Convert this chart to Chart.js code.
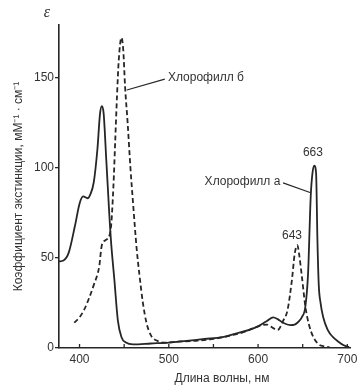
<!DOCTYPE html>
<html>
<head>
<meta charset="utf-8">
<script src="https://cdn.jsdelivr.net/npm/chart.js@4.4.1/dist/chart.umd.min.js"></script>
<style>
  html, body { margin: 0; padding: 0; background: #fff; }
  #wrap { width: 358px; height: 387px; }
</style>
</head>
<body>
<div id="wrap"><canvas id="spectrum" width="358" height="387"></canvas></div>
<script>
// Chlorophyll a (solid line)
const wavelengthA = [377, 382, 388, 395, 400, 404, 409, 412, 416, 420, 423, 425, 427, 430, 435, 439, 443, 447, 452, 460,
  480, 500, 520, 540, 560, 575, 590, 600, 610, 617, 622, 628, 636, 641, 644, 649, 653, 656, 659, 661, 663, 665,
  666.5, 668, 670, 673, 678, 684, 690, 696, 702];
const chlA = [48, 48.5, 53, 68, 80, 84, 83, 85, 92, 110, 130, 134, 130, 104, 61, 38, 15, 6, 3, 2,
  2.5, 3, 4, 5, 6, 8, 10, 12, 15, 17, 16, 14, 12.7, 13, 14, 17, 23, 41, 84, 97, 101, 97,
  60, 35, 25, 17, 10, 6, 3.5, 1.5, 0.5];

// Chlorophyll b (dashed line)
const wavelengthB = [394, 400, 405, 411, 416, 422, 425, 430, 435, 438, 440, 442, 444, 447, 449, 451, 454, 457, 460, 464,
  467, 471, 475, 480, 487, 495, 510, 530, 550, 570, 585, 600, 610, 617, 622, 628, 633, 638, 641, 644, 646, 649,
  653, 657, 662, 668, 673, 680];
const chlB = [14, 17, 21, 28, 35, 45, 57, 60, 66, 90, 115, 140, 160, 172, 165, 145, 124, 100, 80, 55,
  41, 25, 14, 7, 4, 3, 3.5, 4, 5, 7, 9, 12, 13, 11, 10, 15, 21, 38, 52, 57, 52, 40,
  23, 13, 6, 2, 1, 0.5];

const xTicks = [400, 450, 500, 550, 600, 650, 700];
const xLabels = [400, 500, 600, 700];
const yTicks = [0, 50, 100, 150];

const ink = '#262626';
const textInk = '#333';

const toPoints = (xs, ys) => xs.map((x, i) => ({ x: x, y: ys[i] }));

// extra drawing: inward x ticks, epsilon, x title, callouts
const extras = {
    id: 'extras',
    afterDraw(chart) {
        const ctx = chart.ctx;
        const x = chart.scales.x;
        const y = chart.scales.y;
        const px = v => x.getPixelForValue(v);
        const py = v => y.getPixelForValue(v);
        ctx.save();

        ctx.strokeStyle = ink;
        ctx.lineWidth = 1.3;
        xTicks.forEach(v => {
            ctx.beginPath();
            ctx.moveTo(px(v), y.bottom);
            ctx.lineTo(px(v), y.bottom - 4);
            ctx.stroke();
        });

        ctx.fillStyle = textInk;
        ctx.font = 'italic 16px "Liberation Serif", serif';
        ctx.textAlign = 'center';
        ctx.textBaseline = 'middle';
        ctx.fillText('ε', 47, 13);

        ctx.font = '12px "Liberation Sans", Arial, sans-serif';
        ctx.fillText('Длина волны, нм', 222, 379);

        // leader lines
        ctx.lineWidth = 1.1;
        ctx.beginPath();
        ctx.moveTo(px(453), py(143));
        ctx.lineTo(px(495.5), py(149));
        ctx.moveTo(px(628), py(91.5));
        ctx.lineTo(px(659), py(86));
        ctx.stroke();

        ctx.textAlign = 'left';
        ctx.fillText('Хлорофилл б', px(499), py(150));
        ctx.textAlign = 'right';
        ctx.fillText('Хлорофилл а', px(625), py(92));
        ctx.textAlign = 'center';
        ctx.fillText('663', px(661.5), py(108.5));
        ctx.fillText('643', px(638), py(62));

        ctx.restore();
    }
};

new Chart(document.getElementById('spectrum'), {
    type: 'line',
    data: {
        datasets: [{
            label: 'Хлорофилл а',
            data: toPoints(wavelengthA, chlA),
            borderColor: ink,
            borderWidth: 1.8,
            pointRadius: 0,
            cubicInterpolationMode: 'monotone'
        }, {
            label: 'Хлорофилл б',
            data: toPoints(wavelengthB, chlB),
            borderColor: ink,
            borderWidth: 1.8,
            borderDash: [5, 3],
            pointRadius: 0,
            cubicInterpolationMode: 'monotone'
        }]
    },
    options: {
        responsive: false,
        animation: false,
        devicePixelRatio: 1,
        layout: { padding: { top: 25, right: 8, left: 0, bottom: 0 } },
        plugins: {
            legend: { display: false },
            tooltip: { enabled: false }
        },
        scales: {
            x: {
                type: 'linear',
                min: 377,
                max: 703,
                afterBuildTicks: s => { s.ticks = xTicks.map(v => ({ value: v })); },
                afterFit: s => {
                    s.height = 39;
                    s.paddingLeft = 0; s.paddingRight = 0;
                },
                ticks: {
                    autoSkip: false,
                    maxRotation: 0,
                    padding: 4,
                    color: textInk,
                    font: { size: 12, family: '"Liberation Sans", Arial, sans-serif' },
                    callback: v => xLabels.includes(v) ? String(v) : ''
                },
                grid: { display: false, drawTicks: false },
                border: { display: true, color: ink, width: 1.6 }
            },
            y: {
                type: 'linear',
                min: 0,
                max: 179,
                afterBuildTicks: s => { s.ticks = yTicks.map(v => ({ value: v })); },
                afterFit: s => {
                    s.width = 59;
                    s.paddingTop = 0; s.paddingBottom = 0;
                },
                ticks: {
                    padding: 1,
                    color: textInk,
                    font: { size: 12, family: '"Liberation Sans", Arial, sans-serif' }
                },
                grid: {
                    display: true,
                    drawOnChartArea: false,
                    drawTicks: true,
                    tickLength: 4,
                    color: ink,
                    lineWidth: 1.3
                },
                border: { display: true, color: ink, width: 1.6 },
                title: {
                    display: true,
                    text: 'Коэффициент экстинкции, мМ⁻¹ · см⁻¹',
                    color: textInk,
                    font: { size: 12, family: '"Liberation Sans", Arial, sans-serif' },
                    padding: { top: 11, bottom: 0 }
                }
            }
        }
    },
    plugins: [extras]
});
</script>
</body>
</html>
